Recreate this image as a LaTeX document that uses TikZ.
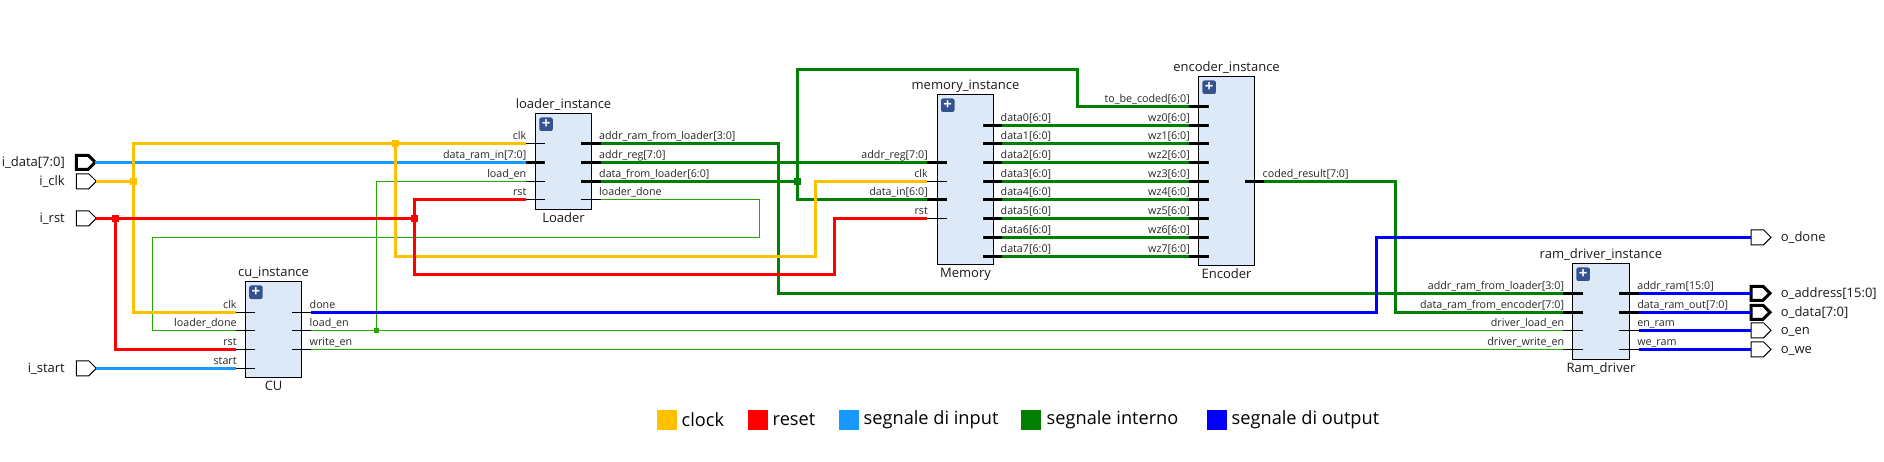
\documentclass[tikz,border=0pt]{standalone}
\usepackage{fontspec}
\setmainfont{Open Sans}
\usetikzlibrary{positioning,shapes.symbols}
\definecolor{clkcol}{HTML}{FFC000}
\definecolor{rstcol}{HTML}{FF0000}
\definecolor{incol}{HTML}{1899FF}
\definecolor{intcol}{HTML}{008000}
\definecolor{thincol}{HTML}{22AA00}
\definecolor{outcol}{HTML}{0000FF}
\definecolor{blockcol}{HTML}{DEE9F7}
\definecolor{pluscol}{HTML}{34528F}
% input pin: style, name, x of the free end, y, text
\newcommand{\pinin}[5][thinpin]{
  \coordinate (#2) at (#3,#4);
  \draw[#1] (#2) -- ++(19.5,0);
  \node[pintext,anchor=base east] (#2_txt) at (#3+1,#4-3.8) {#5};
}
% output pin: style, name, x of the free end, y, text
\newcommand{\pinout}[5][thinpin]{
  \coordinate (#2) at (#3,#4);
  \draw[#1] (#2) -- ++(-19.5,0);
  \node[pintext,anchor=base west] (#2_txt) at (#3-1.5,#4-3.8) {#5};
}
% block: name, x, y, width, height, instance text, type text
\newcommand{\block}[7]{
  \node[blockbox,minimum width=#4,minimum height=#5,anchor=north west] (#1) at (#2,#3) {};
  \node[nametext,anchor=base] (#1_inst) at (#2+#4/2,#3-5) {#6};
  \node[nametext,anchor=base] (#1_type) at (#2+#4/2,#3+#5+13.5) {#7};
  \node[plusbtn,anchor=north west] (#1_plus) at (#2+3.5,#3+4) {+};
}
\begin{document}
\begin{tikzpicture}[x=1pt,y=-1pt,line join=miter]
  \tikzstyle{blockbox}=[draw=black,fill=blockcol,line width=1pt,inner sep=0pt,outer sep=0pt]
  \tikzstyle{plusbtn}=[fill=pluscol,text=white,rounded corners=2pt,minimum width=13.5pt,minimum height=13.5pt,
                       inner sep=0pt,font=\fontsize{15}{15}\selectfont\bfseries]
  \tikzstyle{pintext}=[inner sep=0pt,text=black!85,font=\fontsize{10.7}{11}\selectfont]
  \tikzstyle{nametext}=[inner sep=0pt,text=black!90,font=\fontsize{13}{13}\selectfont]
  \tikzstyle{thinpin}=[black,line width=1pt]
  \tikzstyle{buspin}=[black,line width=3pt]
  \tikzstyle{wclk}=[clkcol,line width=3pt]
  \tikzstyle{wrst}=[rstcol,line width=3pt]
  \tikzstyle{win}=[incol,line width=3pt]
  \tikzstyle{wint}=[intcol,line width=3pt]
  \tikzstyle{wout}=[outcol,line width=3pt]
  \tikzstyle{wthin}=[thincol,line width=1pt]
  \tikzstyle{junc}=[fill=#1,inner sep=0pt,minimum size=7pt,outer sep=0pt]
  \tikzstyle{portin}=[draw=black,fill=white,signal,signal to=east,line width=1pt,minimum width=20pt,
                      minimum height=15pt,inner sep=0pt,outer sep=0pt,anchor=west]
  \tikzstyle{portbus}=[portin,line width=3pt,minimum width=19pt,minimum height=14pt]
  \tikzstyle{swatch}=[minimum size=20pt,inner sep=0pt,outer sep=0pt]
  \tikzstyle{legtext}=[inner sep=0pt,font=\fontsize{18.2}{18}\selectfont]

  \useasboundingbox (0,0) rectangle (1884,462);

  % blocks
  \block{cu}{245.5}{281.3}{56.2}{96}{cu\_instance}{CU}
  \block{loader}{535.6}{113.3}{55.8}{96}{loader\_instance}{Loader}
  \block{memory}{937.3}{94.3}{56.4}{170}{memory\_instance}{Memory}
  \block{encoder}{1198.7}{76.3}{55.6}{189}{encoder\_instance}{Encoder}
  \block{ramdrv}{1572.7}{263.3}{56.5}{96}{ram\_driver\_instance}{Ram\_driver}

  % pins
  \pinin{cu_clk}{235.8}{312.3}{clk}
  \pinin{cu_ldone}{235.8}{330.3}{loader\_done}
  \pinin{cu_rst}{235.8}{349.3}{rst}
  \pinin{cu_start}{235.8}{368.3}{start}
  \pinout{cu_done}{311}{312.3}{done}
  \pinout{cu_load}{311}{330.3}{load\_en}
  \pinout{cu_write}{311}{349.3}{write\_en}

  \pinin{ld_clk}{525.5}{143.3}{clk}
  \pinin[buspin]{ld_data}{525.5}{162.3}{data\_ram\_in[7:0]}
  \pinin{ld_load}{525.5}{181.3}{load\_en}
  \pinin{ld_rst}{525.5}{199.3}{rst}
  \pinout[buspin]{ld_addr}{600.5}{143.3}{addr\_ram\_from\_loader[3:0]}
  \pinout[buspin]{ld_reg}{600.5}{162.3}{addr\_reg[7:0]}
  \pinout[buspin]{ld_from}{600.5}{181.3}{data\_from\_loader[6:0]}
  \pinout{ld_done}{600.5}{199.3}{loader\_done}

  \pinin[buspin]{mem_reg}{927}{162.3}{addr\_reg[7:0]}
  \pinin{mem_clk}{927}{181.3}{clk}
  \pinin[buspin]{mem_in}{927}{199.3}{data\_in[6:0]}
  \pinin{mem_rst}{927}{218.3}{rst}
  \pinin[buspin]{enc_code}{1189}{106.3}{to\_be\_coded[6:0]}
  \pinout[buspin]{enc_res}{1264}{181.3}{coded\_result[7:0]}

  \foreach \i/\y in {0/125.3,1/143.3,2/162.3,3/181.3,4/199.3,5/218.3,6/237.3,7/256.3}{
    \pinout[buspin]{mem_d\i}{1002}{\y}{data\i[6:0]}
    \pinin[buspin]{enc_w\i}{1189}{\y}{wz\i[6:0]}
    \draw[wint] (mem_d\i) -- (enc_w\i);
  }

  \pinin[buspin]{drv_addr}{1563.3}{293.3}{addr\_ram\_from\_loader[3:0]}
  \pinin[buspin]{drv_data}{1563.3}{312.3}{data\_ram\_from\_encoder[7:0]}
  \pinin{drv_load}{1563.3}{330.3}{driver\_load\_en}
  \pinin{drv_write}{1563.3}{349.3}{driver\_write\_en}
  \pinout[buspin]{drv_oaddr}{1638.6}{293.3}{addr\_ram[15:0]}
  \pinout[buspin]{drv_odata}{1638.6}{312.3}{data\_ram\_out[7:0]}
  \pinout{drv_oen}{1638.6}{330.3}{en\_ram}
  \pinout{drv_owe}{1638.6}{349.3}{we\_ram}

  % top level ports
  \foreach \n/\s/\y/\t in {i_data/portbus/162.3/i\_data[7:0],i_clk/portin/181.3/i\_clk,
                           i_rst/portin/218.3/i\_rst,i_start/portin/368.3/i\_start}{
    \node[\s] (\n) at (76.3,\y) {};
    \node[nametext,anchor=base east] (\n_txt) at (65,\y+4.5) {\t};
  }
  \foreach \n/\s/\y/\t in {o_done/portin/237.3/o\_done,o_address/portbus/293.3/o\_address[15:0],
                           o_data/portbus/312.3/o\_data[7:0],o_en/portin/330.3/o\_en,o_we/portin/349.3/o\_we}{
    \node[\s] (\n) at (1751,\y) {};
    \node[nametext,anchor=base west] (\n_txt) at (1780.6,\y+4.5) {\t};
  }

  % junction points
  \coordinate (j_clk) at (133.4,181.3);
  \coordinate (j_clk2) at (395.3,143.3);
  \coordinate (j_rst) at (115.7,218.3);
  \coordinate (j_rst2) at (414.6,218.3);
  \coordinate (j_load) at (376.5,330.3);
  \coordinate (j_from) at (797.6,181.3);

  % thin wires
  \draw[wthin] (ld_done) -- (759.7,199.3) -- (759.7,237.3) -- (152.7,237.3) -- (152.7,330.3) -- (cu_ldone);
  \draw[wthin] (cu_load) -- (drv_load);
  \draw[wthin] (j_load) |- (ld_load);
  \draw[wthin] (cu_write) -- (drv_write);

  % input
  \draw[win] (i_data.east) -- (ld_data);
  \draw[win] (i_start.east) -- (cu_start);

  % internal
  \draw[wint] (ld_addr) -| (778.2,293.3) -- (drv_addr);
  \draw[wint] (ld_reg) -- (mem_reg);
  \draw[wint] (ld_from) -- (j_from);
  \draw[wint] (j_from) |- (1077.5,69.3) |- (enc_code);
  \draw[wint] (j_from) |- (mem_in);
  \draw[wint] (enc_res) -| (1395.5,312.3) -- (drv_data);

  % clock
  \draw[wclk] (i_clk.east) -- (j_clk);
  \draw[wclk] (ld_clk) -| (133.4,312.3) -- (cu_clk);
  \draw[wclk] (j_clk2) |- (815.7,256.3) |- (mem_clk);

  % reset
  \draw[wrst] (i_rst.east) -- (j_rst2);
  \draw[wrst] (j_rst) |- (cu_rst);
  \draw[wrst] (ld_rst) -| (414.6,274.3) -| (834.6,218.3) -- (mem_rst);

  % output
  \draw[wout] (cu_done) -| (1376.7,237.3) -- (o_done.west);
  \draw[wout] (drv_oaddr) -- (o_address.west);
  \draw[wout] (drv_odata) -- (o_data.west);
  \draw[wout] (drv_oen) -- (o_en.west);
  \draw[wout] (drv_owe) -- (o_we.west);

  \node[junc=clkcol] (jn_clk) at (j_clk) {};
  \node[junc=clkcol] (jn_clk2) at (j_clk2) {};
  \node[junc=rstcol] (jn_rst) at (j_rst) {};
  \node[junc=rstcol] (jn_rst2) at (j_rst2) {};
  \node[junc=thincol,minimum size=5pt] (jn_load) at (j_load) {};
  \node[junc=intcol] (jn_from) at (j_from) {};

  % legend
  \node[swatch,fill=clkcol] (leg_clk) at (667,419.5) {};
  \node[legtext,right=4.5pt of leg_clk] (leg_clk_txt) {clock};
  \node[swatch,fill=rstcol] (leg_rst) at (758,419.5) {};
  \node[legtext,right=4.5pt of leg_rst] (leg_rst_txt) {reset};
  \node[swatch,fill=incol] (leg_in) at (849,419.5) {};
  \node[legtext,right=4.5pt of leg_in] (leg_in_txt) {segnale di input};
  \node[swatch,fill=intcol] (leg_int) at (1031,419.5) {};
  \node[legtext,right=5.5pt of leg_int] (leg_int_txt) {segnale interno};
  \node[swatch,fill=outcol] (leg_out) at (1217,419.5) {};
  \node[legtext,right=4.5pt of leg_out] (leg_out_txt) {segnale di output};

\end{tikzpicture}
\end{document}
